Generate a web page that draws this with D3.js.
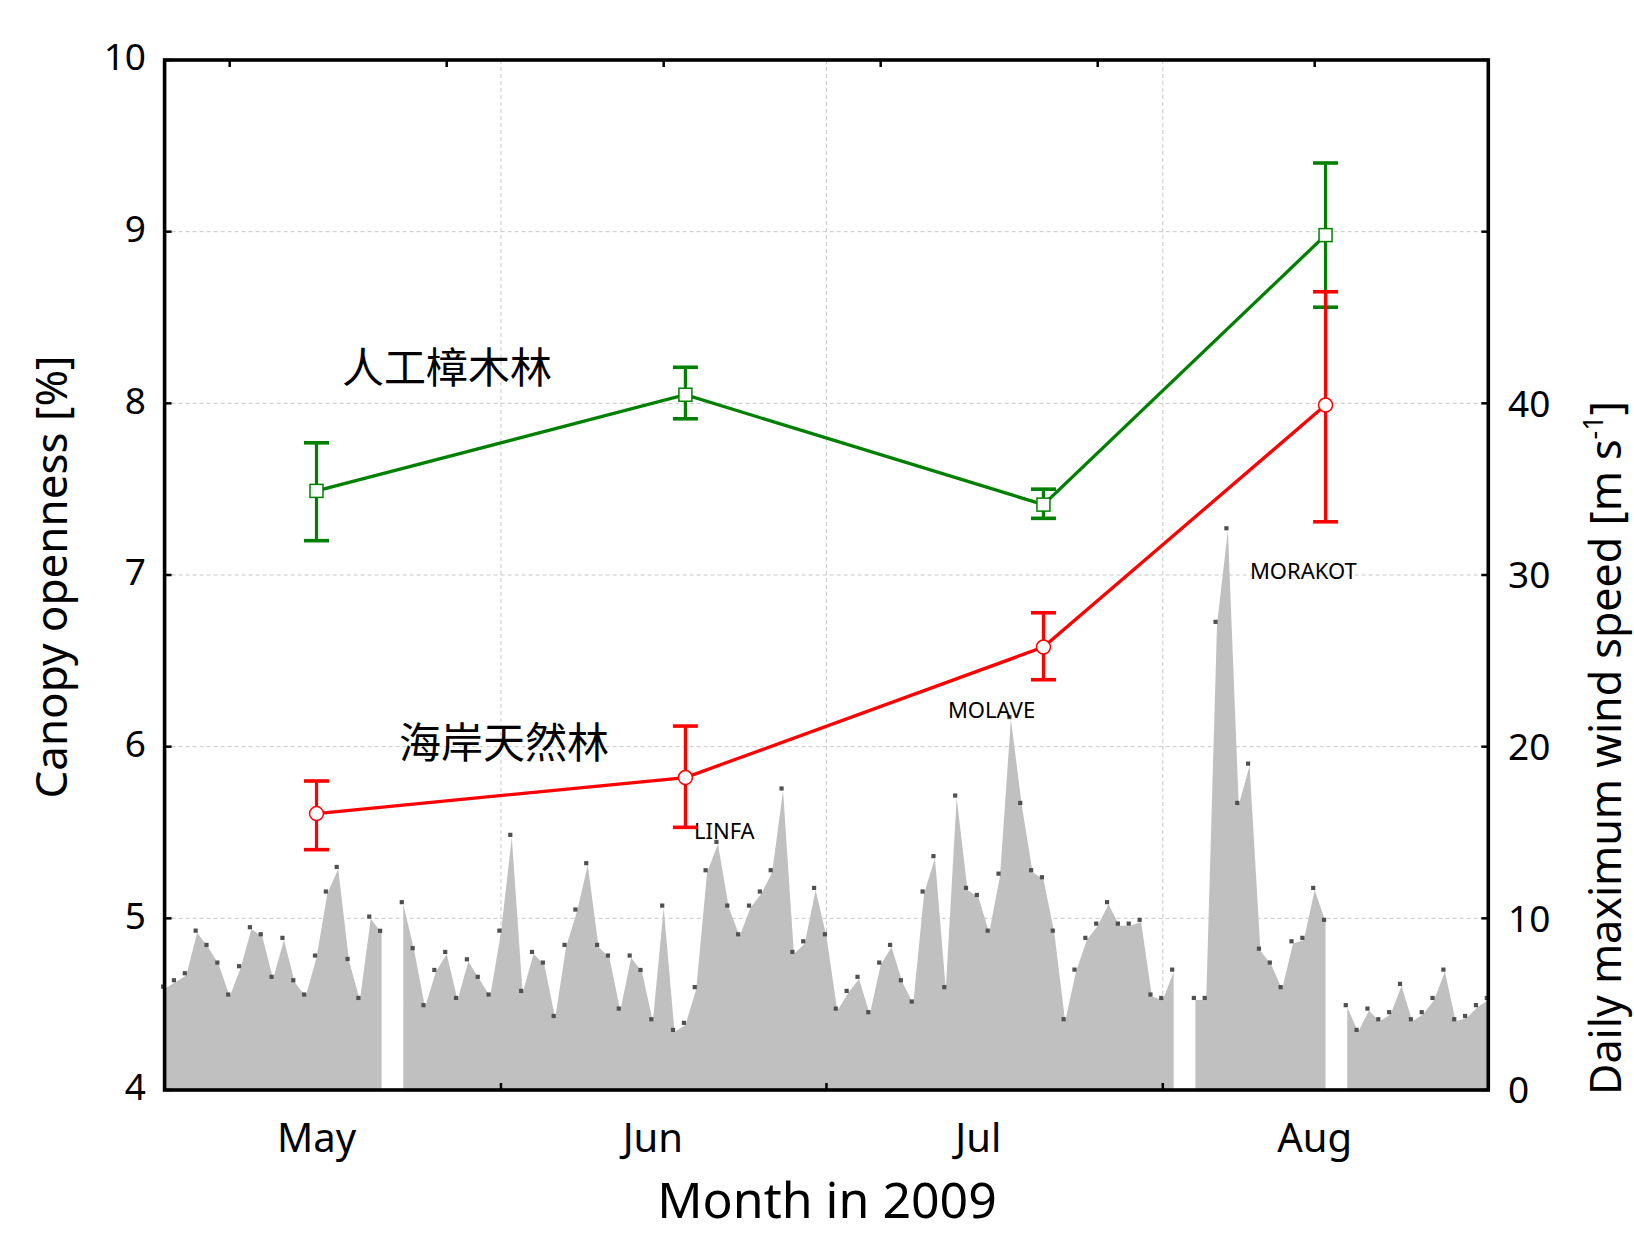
<!DOCTYPE html>
<html>
<head>
<meta charset="utf-8">
<script src="https://cdn.jsdelivr.net/npm/d3@7"></script>
<style>
  body { margin: 0; background: #fff; }
  svg { display: block; }
  text { font-family: "Noto Sans", "Open Sans", sans-serif; fill: #000; }
  .cjk { font-family: "Noto Sans CJK TC", "Noto Sans CJK SC", sans-serif; }
</style>
</head>
<body>
<svg id="chart" width="1634" height="1234"></svg>
<script>
// ---- data ----------------------------------------------------------------
// Daily maximum wind speed (m/s), one value per day from 1 May 2009; null = no record
const windStart = "2009-05-01";
const windSpeed = [
  5.9, 6.27, 6.68, 9.16, 8.33, 7.30, 5.44, 7.09, 9.36, 8.95,
  6.47, 8.74, 6.27, 5.44, 7.71, 11.44, 12.87, 7.51, 5.24, 9.98,
  9.15, null, 10.82, 8.14, 4.82, 6.87, 7.92, 5.24, 7.49, 6.47,
  5.44, 9.16, 14.74, 5.65, 7.92, 7.30, 4.19, 8.33, 10.39, 13.09,
  8.33, 7.71, 4.62, 7.71, 6.87, 4.00, 10.62, 3.38, 3.79, 5.87,
  12.68, 14.33, 10.62, 8.95, 10.62, 11.44, 12.68, 17.44, 7.92, 8.54,
  11.65, 8.95, 4.62, 5.65, 6.47, 4.41, 7.30, 8.33, 6.27, 5.03,
  11.44, 13.50, 5.87, 17.03, 11.65, 11.24, 9.16, 12.48, 21.6, 16.6,
  12.68, 12.27, 9.16, 4.00, 6.89, 8.74, 9.57, 10.82, 9.57, 9.57,
  9.79, 5.44, 5.24, 6.89, null, 5.24, 5.24, 27.15, 32.6, 16.6,
  18.89, 8.11, 7.30, 5.87, 8.54, 8.74, 11.65, 9.79, null, 4.82,
  3.38, 4.62, 4.00, 4.41, 6.06, 4.00, 4.41, 5.24, 6.89, 4.00,
  4.19, 4.82, 5.24
];

// Canopy openness surveys (%), mean with error-bar limits
const surveyDates = ["2009-05-15", "2009-06-18", "2009-07-21", "2009-08-16"];
const plantationMean  = [7.49, 8.05, 7.41, 8.98];
const plantationUpper = [7.77, 8.21, 7.50, 9.40];
const plantationLower = [7.20, 7.91, 7.33, 8.56];
const coastalMean  = [5.61, 5.82, 6.58, 7.99];
const coastalUpper = [5.80, 6.12, 6.78, 8.65];
const coastalLower = [5.40, 5.53, 6.39, 7.31];
const seriesNames = ["人工樟木林", "海岸天然林"];

// Axes
const xDomain = ["2009-05-01", "2009-08-31"];
const monthLabels = ["May", "Jun", "Jul", "Aug"];
const monthLabelDates = ["2009-05-15", "2009-06-15", "2009-07-15", "2009-08-15"];
const monthStarts = ["2009-06-01", "2009-07-01", "2009-08-01"];
const topTickStart = "2009-05-07";
const canopyTicks = [4, 5, 6, 7, 8, 9, 10];
const windTicks = [0, 10, 20, 30, 40, 50, 60];
const windTickLabels = ["0", "10", "20", "30", "40", "", ""];

// Typhoons named at their wind peaks
const typhoonNames = ["LINFA", "MOLAVE", "MORAKOT"];
const typhoonPeakDates = ["2009-06-21", "2009-07-18", "2009-08-07"];

// ---- layout --------------------------------------------------------------
const parse = d3.utcParse("%Y-%m-%d");
const plot = { left: 164.6, right: 1488.3, top: 60, bottom: 1090 };

const x = d3.scaleUtc().domain(xDomain.map(parse)).range([plot.left, plot.right]);
const yC = d3.scaleLinear().domain([4, 10]).range([plot.bottom, plot.top]);
const yW = d3.scaleLinear().domain([0, 60]).range([plot.bottom, plot.top]);

const svg = d3.select("#chart");
const grid = svg.append("g").attr("class", "grid");

// dashed grid lines
grid.selectAll("line.h").data(canopyTicks.slice(1, -1)).join("line")
  .attr("x1", plot.left).attr("x2", plot.right)
  .attr("y1", d => yC(d)).attr("y2", d => yC(d))
  .attr("stroke", "#c8c8c8").attr("stroke-width", 1).attr("stroke-dasharray", "4,3");
grid.selectAll("line.v").data(monthStarts.map(parse)).join("line")
  .attr("x1", d => x(d)).attr("x2", d => x(d))
  .attr("y1", plot.top).attr("y2", plot.bottom)
  .attr("stroke", "#c8c8c8").attr("stroke-width", 1).attr("stroke-dasharray", "4,3");

// ---- wind speed area ------------------------------------------------------
const windStartDate = parse(windStart);
const wind = windSpeed.map((v, i) => ({ date: d3.utcDay.offset(windStartDate, i), v }));

const area = d3.area()
  .defined(d => d.v != null)
  .x(d => x(d.date))
  .y0(plot.bottom)
  .y1(d => yW(d.v));

svg.append("path").datum(wind)
  .attr("d", area)
  .attr("fill", "#c0c0c0");

svg.append("g").selectAll("rect").data(wind.filter(d => d.v != null)).join("rect")
  .attr("x", d => x(d.date) - 3.6)
  .attr("y", d => yW(d.v) - 4.2)
  .attr("width", 4.2).attr("height", 4.2)
  .attr("fill", "#505050");

// typhoon names
const peakStyle = [
  { dx: -24, dy: -5 },
  { dx: -63, dy: -1 },
  { dx: 22, dy: 49 }
];
typhoonNames.forEach((name, i) => {
  const dt = parse(typhoonPeakDates[i]);
  const rec = wind.find(d => +d.date === +dt);
  svg.append("text")
    .attr("x", x(dt) + peakStyle[i].dx)
    .attr("y", yW(rec.v) + peakStyle[i].dy)
    .attr("font-size", 22)
    .text(name);
});

// ---- canopy openness series ----------------------------------------------
const series = [
  { name: seriesNames[0], color: "#008000", mean: plantationMean, upper: plantationUpper, lower: plantationLower, marker: "square", label: { dx: 25.5, dy: -108 } },
  { name: seriesNames[1], color: "#ff0000", mean: coastalMean, upper: coastalUpper, lower: coastalLower, marker: "circle", label: { dx: 82.5, dy: -56 } }
];

series.forEach(s => {
  const pts = surveyDates.map((d, i) => ({ date: parse(d), m: s.mean[i], hi: s.upper[i], lo: s.lower[i] }));
  const g = svg.append("g");

  // error bars
  g.selectAll("line.err").data(pts).join("line")
    .attr("x1", d => x(d.date)).attr("x2", d => x(d.date))
    .attr("y1", d => yC(d.hi)).attr("y2", d => yC(d.lo))
    .attr("stroke", s.color).attr("stroke-width", 3.2);
  ["hi", "lo"].forEach(k => {
    g.selectAll("line.cap-" + k).data(pts).join("line")
      .attr("x1", d => x(d.date) - 12.5).attr("x2", d => x(d.date) + 12.5)
      .attr("y1", d => yC(d[k])).attr("y2", d => yC(d[k]))
      .attr("stroke", s.color).attr("stroke-width", 3.6);
  });

  // connecting line
  g.append("path").datum(pts)
    .attr("d", d3.line().x(d => x(d.date)).y(d => yC(d.m)))
    .attr("fill", "none").attr("stroke", s.color).attr("stroke-width", 3.3);

  // markers
  if (s.marker === "square") {
    g.selectAll("rect.mk").data(pts).join("rect")
      .attr("x", d => x(d.date) - 6.5).attr("y", d => yC(d.m) - 6.5)
      .attr("width", 13).attr("height", 13)
      .attr("fill", "#fff").attr("stroke", s.color).attr("stroke-width", 1.5);
  } else {
    g.selectAll("circle.mk").data(pts).join("circle")
      .attr("cx", d => x(d.date)).attr("cy", d => yC(d.m)).attr("r", 7)
      .attr("fill", "#fff").attr("stroke", s.color).attr("stroke-width", 1.5);
  }

  // series name
  svg.append("text").attr("class", "cjk")
    .attr("x", x(pts[0].date) + s.label.dx)
    .attr("y", yC(pts[0].m) + s.label.dy)
    .attr("font-size", 42)
    .text(s.name);
});

// ---- frame and ticks -----------------------------------------------------
const frame = svg.append("g").attr("stroke", "#000");
const tickLen = 7;

// left ticks (inward)
frame.selectAll("line.tl").data(canopyTicks).join("line")
  .attr("x1", plot.left).attr("x2", plot.left + tickLen)
  .attr("y1", d => yC(d)).attr("y2", d => yC(d)).attr("stroke-width", 2.5);
// right ticks (inward)
frame.selectAll("line.tr").data(windTicks).join("line")
  .attr("x1", plot.right).attr("x2", plot.right - tickLen)
  .attr("y1", d => yW(d)).attr("y2", d => yW(d)).attr("stroke-width", 2.5);
// bottom ticks at month boundaries
frame.selectAll("line.tb").data(monthStarts.map(parse)).join("line")
  .attr("x1", d => x(d)).attr("x2", d => x(d))
  .attr("y1", plot.bottom).attr("y2", plot.bottom - tickLen).attr("stroke-width", 2.5);
// top ticks every 20 days
const topTicks = d3.range(6).map(k => d3.utcDay.offset(parse(topTickStart), 20 * k));
frame.selectAll("line.tt").data(topTicks).join("line")
  .attr("x1", d => x(d)).attr("x2", d => x(d))
  .attr("y1", plot.top).attr("y2", plot.top + tickLen).attr("stroke-width", 2.5);

frame.append("rect")
  .attr("x", plot.left).attr("y", plot.top)
  .attr("width", plot.right - plot.left).attr("height", plot.bottom - plot.top)
  .attr("fill", "none").attr("stroke-width", 3.6);

// ---- tick labels -----------------------------------------------------------
svg.append("g").selectAll("text").data(canopyTicks).join("text")
  .attr("x", 146).attr("y", d => yC(d)).attr("dy", "0.28em")
  .attr("text-anchor", "end").attr("font-size", 37)
  .text(d => d);

svg.append("g").selectAll("text").data(windTicks).join("text")
  .attr("x", 1508).attr("y", d => yW(d)).attr("dy", "0.36em")
  .attr("text-anchor", "start").attr("font-size", 37)
  .text((d, i) => windTickLabels[i]);

svg.append("g").selectAll("text").data(monthLabelDates.map(parse)).join("text")
  .attr("x", d => x(d)).attr("y", 1152)
  .attr("text-anchor", "middle").attr("font-size", 40)
  .text((d, i) => monthLabels[i]);

// ---- axis titles -----------------------------------------------------------
svg.append("text")
  .attr("transform", "translate(827,1218)")
  .attr("text-anchor", "middle").attr("font-size", 50)
  .text("Month in 2009");

svg.append("text")
  .attr("transform", "translate(67,577) rotate(-90)")
  .attr("text-anchor", "middle").attr("font-size", 44)
  .text("Canopy openness [%]");

const rt = svg.append("text")
  .attr("transform", "translate(1621,748) rotate(-90)")
  .attr("text-anchor", "middle").attr("font-size", 43);
rt.append("tspan").text("Daily maximum wind speed [m s");
rt.append("tspan").attr("dy", -18).attr("font-size", 27).text("-1");
rt.append("tspan").attr("dy", 18).text("]");
</script>
</body>
</html>
